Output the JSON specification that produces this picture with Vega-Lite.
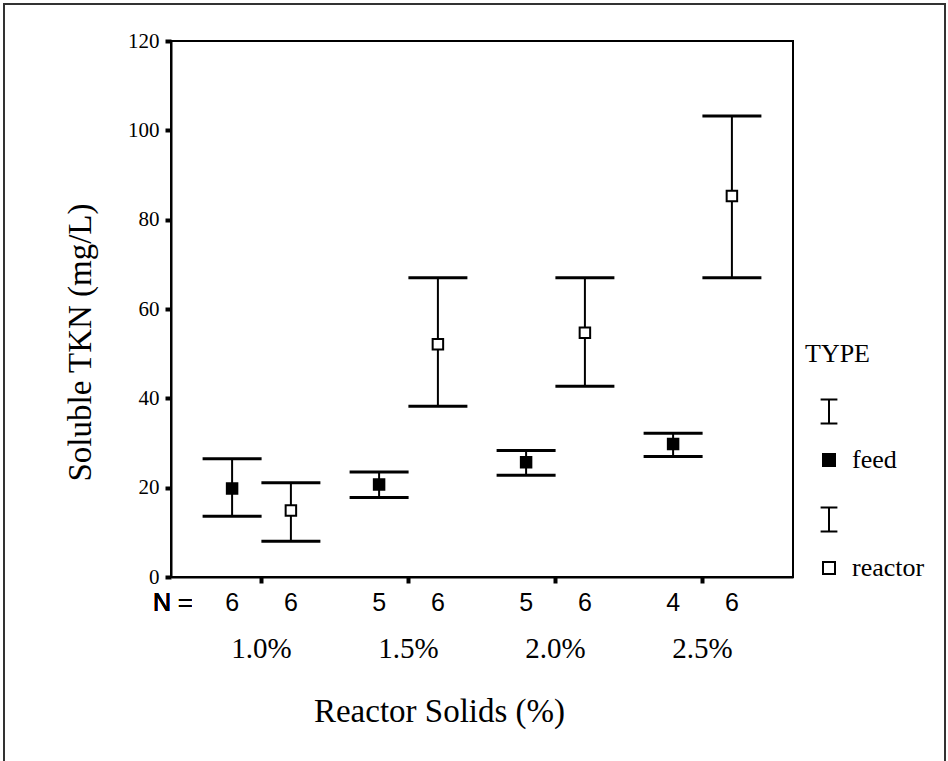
{
  "$schema": "https://vega.github.io/schema/vega-lite/v6.json",
  "autosize": {"type": "none"},
  "padding": {"left": 171, "top": 41, "right": 155, "bottom": 184},
  "width": 622,
  "height": 536,
  "background": "white",
  "config": {
    "view": {"stroke": "black", "strokeWidth": 2},
    "axis": {"grid": false, "domainColor": "black", "domainWidth": 2, "tickColor": "black", "tickWidth": 4, "tickSize": 6, "labelColor": "black", "titleColor": "black", "labelFont": "Liberation Serif", "titleFont": "Liberation Serif", "titleFontWeight": "normal"}
  },
  "data": {"values": [
    {"solids": "1.0%", "type": "feed", "mean": 19.8, "lo": 13.6, "hi": 26.5, "n": 6},
    {"solids": "1.0%", "type": "reactor", "mean": 14.9, "lo": 8.0, "hi": 21.1, "n": 6},
    {"solids": "1.5%", "type": "feed", "mean": 20.7, "lo": 17.8, "hi": 23.5, "n": 5},
    {"solids": "1.5%", "type": "reactor", "mean": 52.1, "lo": 38.2, "hi": 67.0, "n": 6},
    {"solids": "2.0%", "type": "feed", "mean": 25.7, "lo": 22.8, "hi": 28.3, "n": 5},
    {"solids": "2.0%", "type": "reactor", "mean": 54.7, "lo": 42.7, "hi": 67.0, "n": 6},
    {"solids": "2.5%", "type": "feed", "mean": 29.8, "lo": 27.0, "hi": 32.2, "n": 4},
    {"solids": "2.5%", "type": "reactor", "mean": 85.3, "lo": 67.0, "hi": 103.2, "n": 6}
  ]},
  "resolve": {"scale": {"x": "independent"}},
  "layer": [
    {
      "mark": {"type": "rect", "filled": false, "stroke": "#333", "strokeWidth": 1.5},
      "encoding": {
        "x": {"datum": -0.2685, "type": "quantitative", "scale": {"domain": [0, 1], "nice": false, "zero": false}, "axis": null},
        "x2": {"datum": 1.2444},
        "y": {"datum": 128.3, "type": "quantitative"},
        "y2": {"datum": -45}
      }
    },
    {
      "layer": [
        {
          "mark": {"type": "rule", "color": "black", "strokeWidth": 2},
          "encoding": {
            "y": {"field": "lo", "type": "quantitative"},
            "y2": {"field": "hi"}
          }
        },
        {
          "mark": {"type": "tick", "color": "black", "opacity": 1, "size": 59, "thickness": 3},
          "encoding": {"y": {"field": "lo", "type": "quantitative"}}
        },
        {
          "mark": {"type": "tick", "color": "black", "opacity": 1, "size": 59, "thickness": 3},
          "encoding": {"y": {"field": "hi", "type": "quantitative"}}
        },
        {
          "mark": {"type": "point", "shape": "square", "filled": true, "size": 110, "stroke": "black", "strokeWidth": 2, "opacity": 1},
          "encoding": {
            "y": {"field": "mean", "type": "quantitative"},
            "fill": {"field": "type", "type": "nominal", "scale": {"domain": ["feed", "reactor"], "range": ["black", "white"]},
              "legend": {"orient": "none", "legendX": 634, "legendY": 300, "title": "TYPE", "titleFont": "Liberation Serif", "titleFontSize": 26, "titleFontWeight": "normal", "titleColor": "black", "labelFont": "Liberation Serif", "labelFontSize": 26, "labelColor": "black", "symbolType": "M-1,-1H1V1H-1Z M0,-10.1V-6.1 M-1.4,-10.1H1.4 M-1.4,-6.1H1.4", "symbolSize": 144, "symbolStrokeColor": "black", "symbolStrokeWidth": 2, "symbolOpacity": 1, "rowPadding": 30, "titlePadding": 80, "padding": 0, "symbolOffset": 11, "labelOffset": 10}}
          }
        },
        {
          "mark": {"type": "text", "font": "Liberation Sans", "fontSize": 25, "color": "black", "baseline": "middle", "align": "center"},
          "encoding": {
            "y": {"datum": -5.8, "type": "quantitative"},
            "text": {"field": "n", "type": "quantitative"}
          }
        }
      ],
      "encoding": {
        "x": {"field": "solids", "type": "nominal", "scale": {"type": "band", "paddingInner": 0.2, "paddingOuter": 0.2156},
          "axis": {"title": "Reactor Solids (%)", "labelAngle": 0, "labelFontSize": 29, "labelPadding": 51, "titleFontSize": 33, "titlePadding": 32, "titleX": 268}},
        "xOffset": {"field": "type", "type": "nominal", "scale": {"domain": ["feed", "reactor"], "paddingInner": 0, "paddingOuter": 0}},
        "y": {"type": "quantitative", "scale": {"domain": [0, 120], "nice": false},
          "axis": {"title": "Soluble TKN (mg/L)", "values": [0, 20, 40, 60, 80, 100, 120], "labelFontSize": 21, "labelPadding": 6, "titleFontSize": 33, "titlePadding": 30, "titleY": 301}}
      }
    },
    {
      "mark": {"type": "text", "font": "Liberation Sans", "fontSize": 25, "color": "black", "baseline": "middle", "align": "right", "dx": -69},
      "encoding": {
        "x": {"datum": "1.0%", "type": "nominal", "scale": {"type": "band", "domain": ["1.0%", "1.5%", "2.0%", "2.5%"], "paddingInner": 0.2, "paddingOuter": 0.2156}, "axis": null},
        "y": {"datum": -5.8, "type": "quantitative"},
        "text": {"value": "N ="}
      }
    }
  ]
}
